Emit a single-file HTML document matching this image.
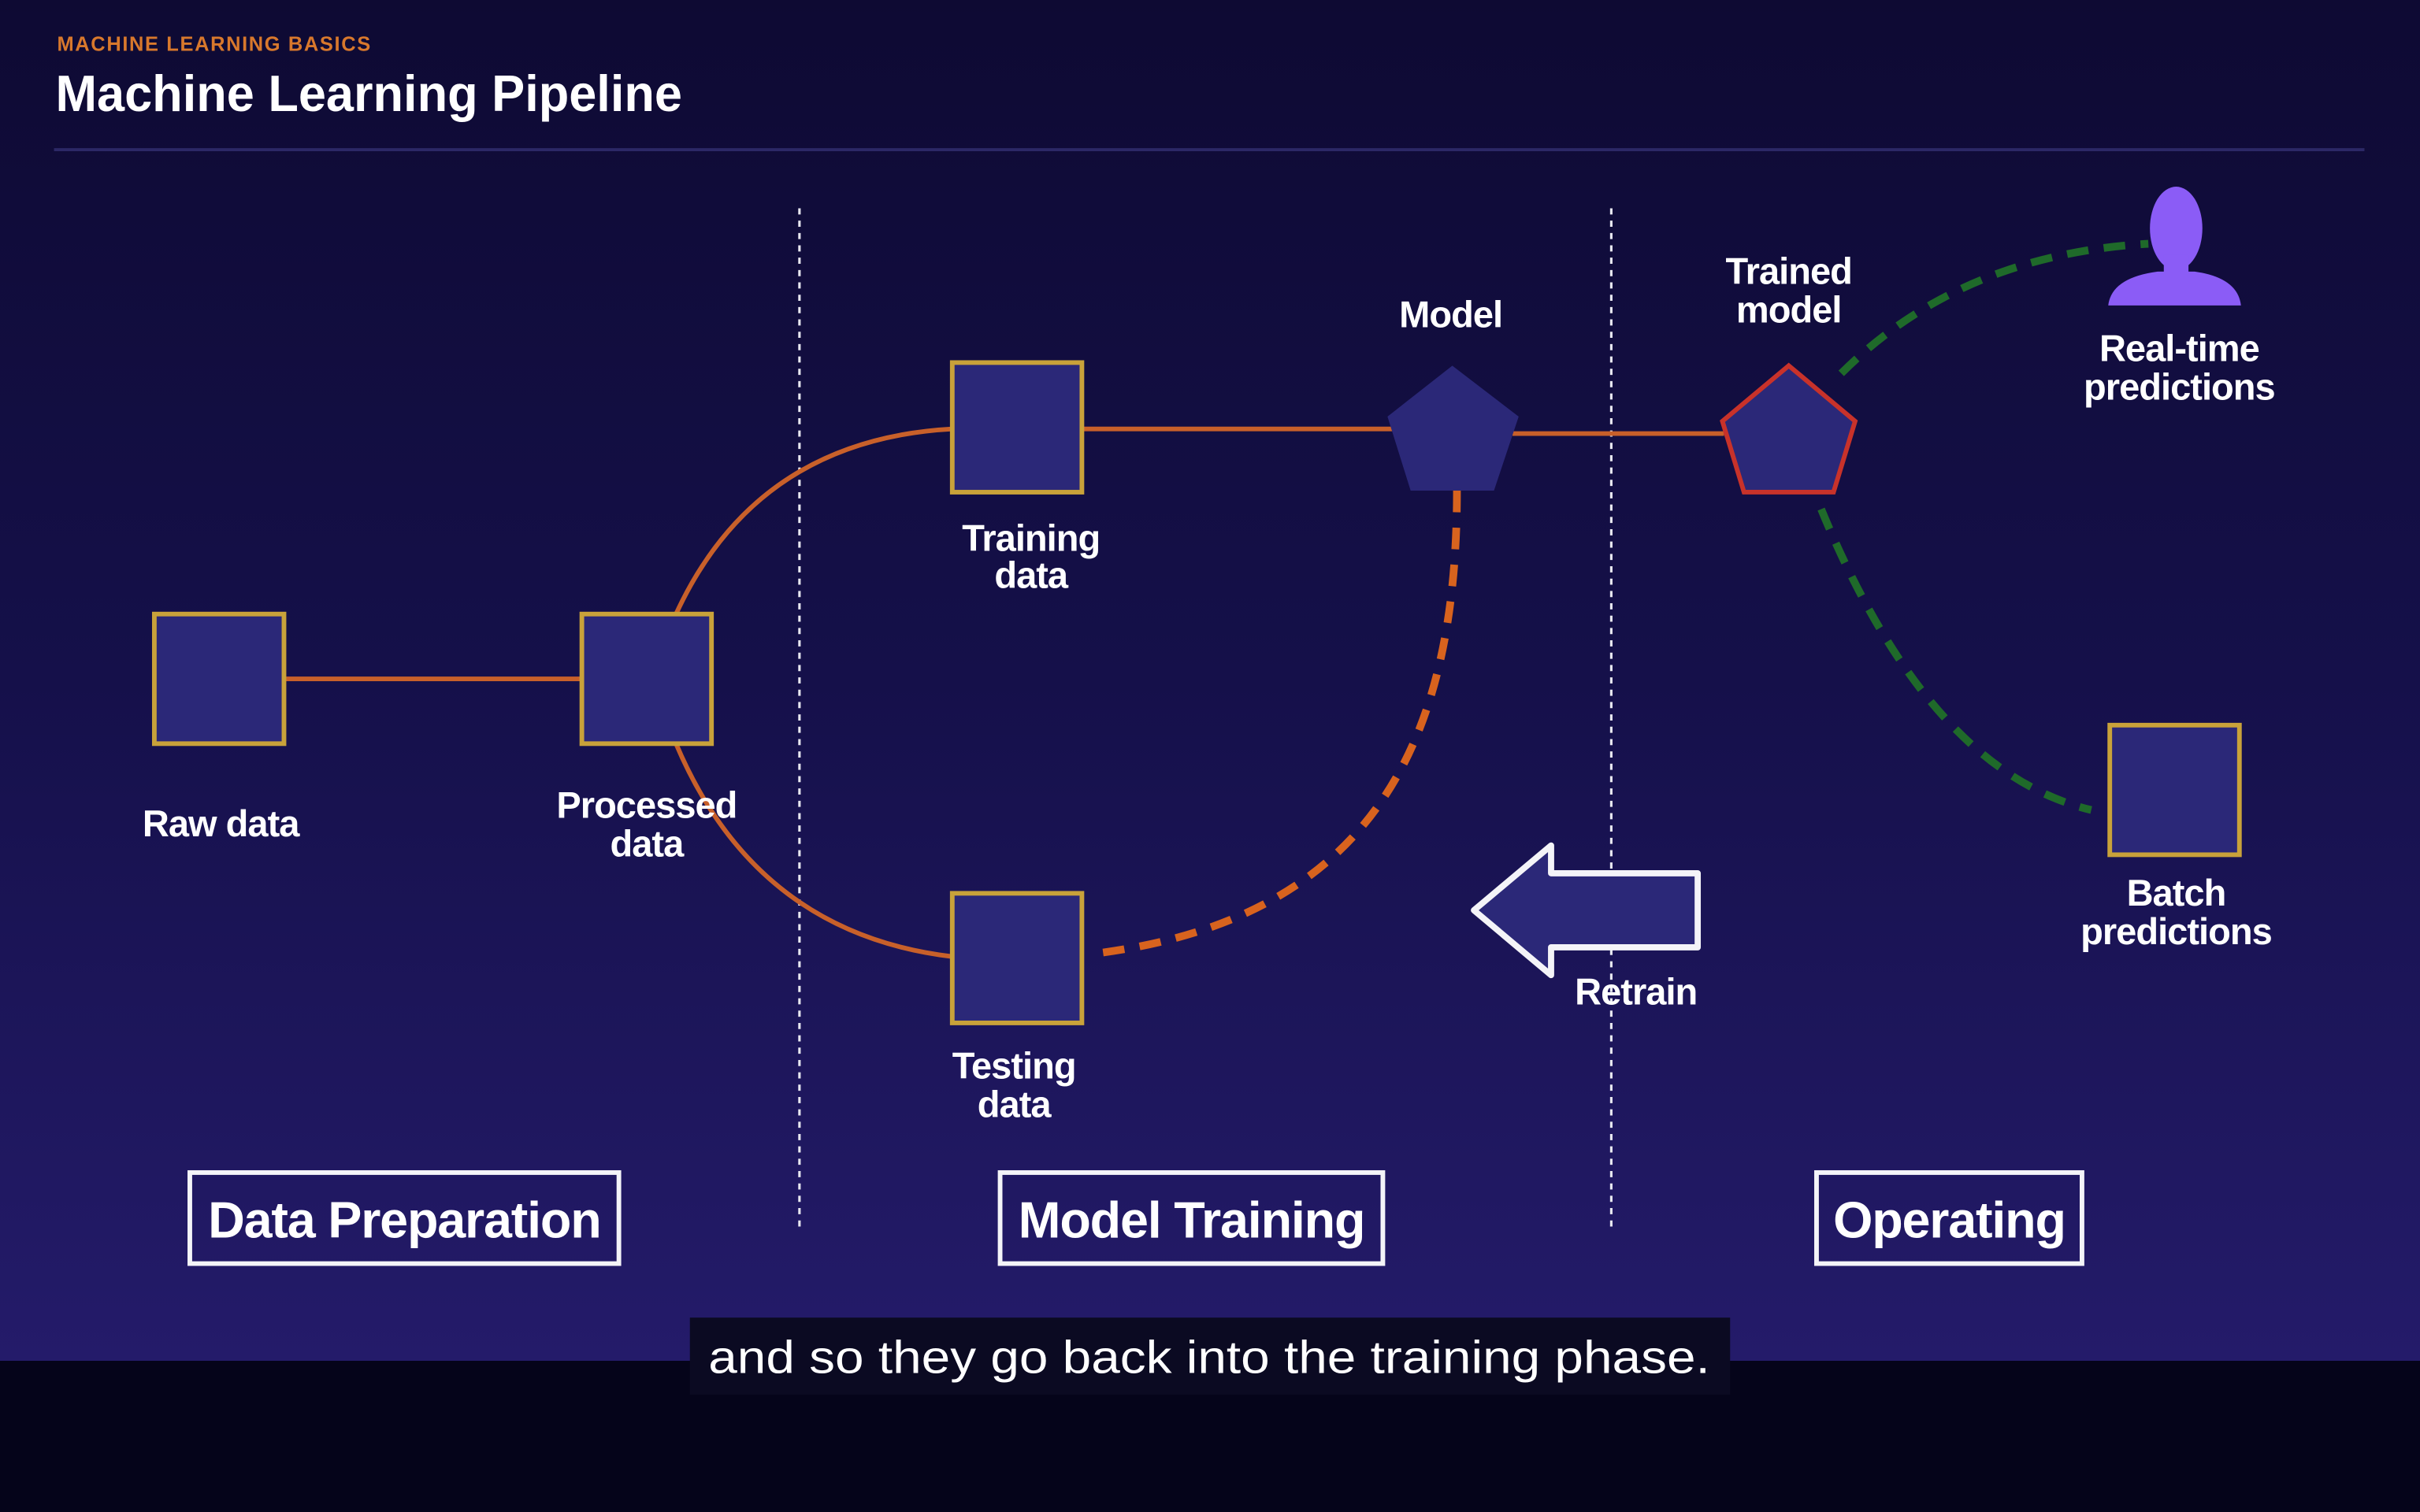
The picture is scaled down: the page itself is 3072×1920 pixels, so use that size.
<!DOCTYPE html>
<html><head><meta charset="utf-8"><style>
html,body{margin:0;padding:0;background:#05041a;}
svg{display:block;}
text{font-family:"Liberation Sans",Arial,sans-serif;font-weight:bold;fill:#fff;}
</style></head><body>
<svg width="3072" height="1920" viewBox="0 0 1568 980" xmlns="http://www.w3.org/2000/svg">
<defs>
<linearGradient id="bg" x1="0" y1="0" x2="0" y2="1">
<stop offset="0" stop-color="#0e0a33"/><stop offset="0.5" stop-color="#15104a"/><stop offset="1" stop-color="#241b6a"/>
</linearGradient>
</defs>
<rect x="0" y="0" width="1568" height="882" fill="url(#bg)"/>
<rect x="0" y="882" width="1568" height="98" fill="#05041a"/>
<text x="37" y="33" font-size="13" style="fill:#d8782c" textLength="203" lengthAdjust="spacing">MACHINE LEARNING BASICS</text>
<text x="36" y="72" font-size="33" textLength="406" lengthAdjust="spacingAndGlyphs">Machine Learning Pipeline</text>
<line x1="35" y1="97" x2="1532" y2="97" stroke="#2c2866" stroke-width="2"/>
<g stroke="#e8e8f0" stroke-width="1.6" stroke-dasharray="4 4">
<line x1="518" y1="135" x2="518" y2="798"/><line x1="1044" y1="135" x2="1044" y2="798"/>
</g>
<g stroke="#c8602a" stroke-width="3" fill="none">
<line x1="184" y1="440" x2="377" y2="440"/>
<line x1="701" y1="278" x2="905" y2="278"/>
<line x1="980" y1="281" x2="1117" y2="281"/>
<path d="M438 398 Q490 285 617 278"/>
<path d="M438 482 Q490 605 617 620"/>
</g>
<path d="M944 318 C944 480 890 595 710 618" stroke="#d8631e" stroke-width="5" fill="none" stroke-dasharray="14 10"/>
<g stroke="#1f6a2a" stroke-width="5" fill="none" stroke-dasharray="14 10">
<path d="M1193 242 Q1270 165 1392 158"/>
<path d="M1180 330 Q1250 500 1355 525"/>
</g>
<g fill="#2b2878" stroke="#c9a23a" stroke-width="3">
<rect x="100" y="398" width="84" height="84"/>
<rect x="377" y="398" width="84" height="84"/>
<rect x="617" y="235" width="84" height="84"/>
<rect x="617" y="579" width="84" height="84"/>
<rect x="1367" y="470" width="84" height="84"/>
</g>
<polygon points="941,237 984,270 968,318 914,318 899,270" fill="#2b2878"/>
<polygon points="1159,237 1202,273 1188,319 1130,319 1116,273" fill="#2b2878" stroke="#c8322a" stroke-width="3"/>
<g fill="#8b5cf6">
<ellipse cx="1410" cy="148" rx="17" ry="27"/>
<rect x="1402" y="165" width="16" height="14"/>
<path d="M1366 198 Q1368 180 1398 176 L1422 176 Q1450 180 1452 198 Z"/>
</g>
<polygon points="955,590 1005,548 1005,566 1100,566 1100,614 1005,614 1005,632" fill="#2b2878" stroke="#f4f4f8" stroke-width="4" stroke-linejoin="round"/>
<g font-size="24" text-anchor="middle" letter-spacing="-0.5">
<text x="940" y="212">Model</text>
<text x="1159" y="184">Trained</text><text x="1159" y="209">model</text>
<text x="1412" y="234">Real-time</text><text x="1412" y="259">predictions</text>
<text x="668" y="357">Training</text><text x="668" y="381">data</text>
<text x="143" y="542">Raw data</text>
<text x="419" y="530">Processed</text><text x="419" y="555">data</text>
<text x="657" y="699">Testing</text><text x="657" y="724">data</text>
<text x="1410" y="587">Batch</text><text x="1410" y="612">predictions</text>
<text x="1060" y="651">Retrain</text>
</g>
<g fill="none" stroke="#f4f4f8" stroke-width="3">
<rect x="123" y="760" width="278" height="59"/>
<rect x="648" y="760" width="248" height="59"/>
<rect x="1177" y="760" width="172" height="59"/>
</g>
<g font-size="33" text-anchor="middle" letter-spacing="-0.6">
<text x="262" y="802">Data Preparation</text>
<text x="772" y="802">Model Training</text>
<text x="1263" y="802">Operating</text>
</g>
<rect x="447" y="854" width="674" height="50" fill="#0b0a22"/>
<text x="459" y="890" font-size="30" style="font-weight:normal" textLength="649" lengthAdjust="spacingAndGlyphs">and so they go back into the training phase.</text>
</svg>
</body></html>
